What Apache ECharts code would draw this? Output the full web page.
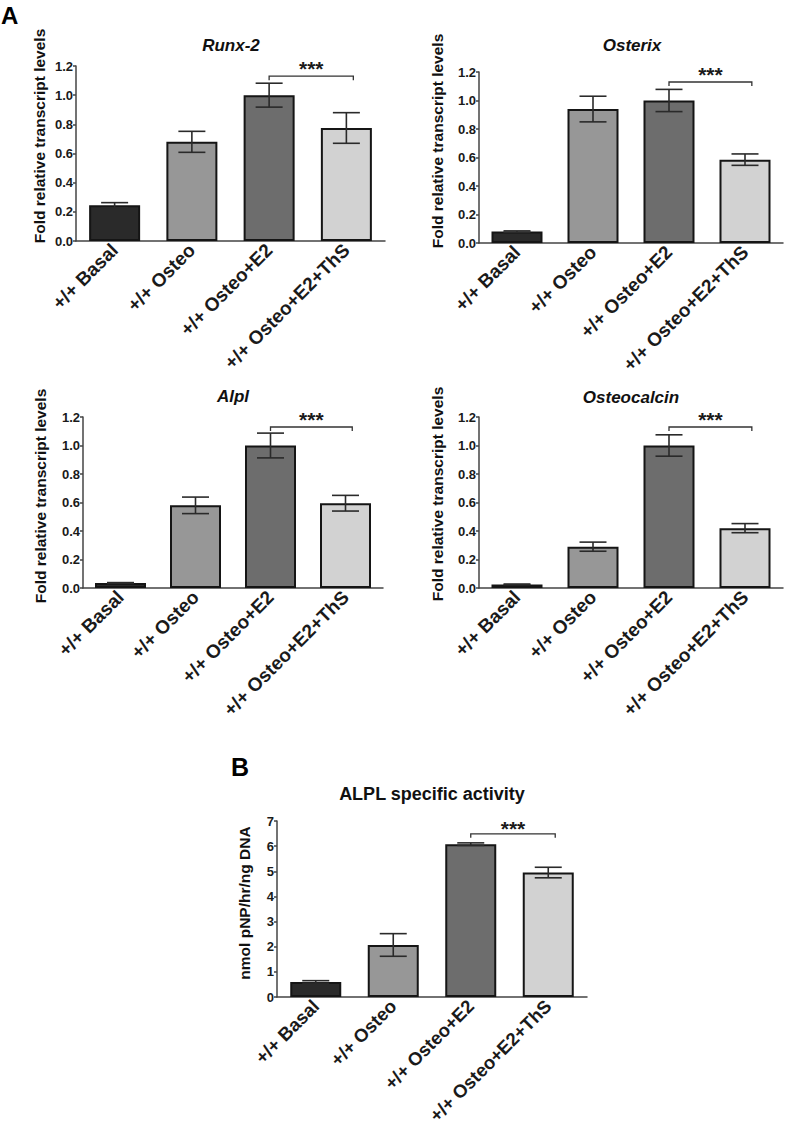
<!DOCTYPE html>
<html>
<head>
<meta charset="utf-8">
<script src="https://cdn.jsdelivr.net/npm/echarts@6/dist/echarts.min.js"></script>
<style>
html,body{margin:0;padding:0;background:#fff;}
#c{width:787px;height:1144px;}
</style>
</head>
<body>
<div id="c"></div>
<script>
// ---------- data ----------
const categories = ['+/+ Basal', '+/+ Osteo', '+/+ Osteo+E2', '+/+ Osteo+E2+ThS'];
const barColors = ['#2a2a2a', '#979797', '#6d6d6d', '#d2d2d2'];

const runx2Mean = [0.245, 0.68, 1.0, 0.775];
const runx2Err  = [0.018, 0.072, 0.082, 0.105];
const osterixMean = [0.08, 0.94, 1.0, 0.585];
const osterixErr  = [0.005, 0.09, 0.078, 0.04];
const alplMean = [0.035, 0.58, 1.0, 0.595];
const alplErr  = [0.003, 0.058, 0.087, 0.055];
const osteocalcinMean = [0.025, 0.29, 1.0, 0.42];
const osteocalcinErr  = [0.003, 0.032, 0.075, 0.032];
const alplActivityMean = [0.6, 2.07, 6.08, 4.95];
const alplActivityErr  = [0.05, 0.45, 0.05, 0.21];

const yTicksA = [0.0, 0.2, 0.4, 0.6, 0.8, 1.0, 1.2];
const yTicksB = [0, 1, 2, 3, 4, 5, 6, 7];

// significance: [from category, to category, bracket level, star level]
const sigRunx2 = [2, 3, 1.13, 1.2];
const sigOsterix = [2, 3, 1.13, 1.2];
const sigAlpl = [2, 3, 1.13, 1.2];
const sigOsteocalcin = [2, 3, 1.13, 1.2];
const sigActivity = [2, 3, 6.49, 6.8];

const titles = ['Runx-2', 'Osterix', 'Alpl', 'Osteocalcin', 'ALPL specific activity'];
const yNameA = 'Fold relative transcript levels';
const yNameB = 'nmol pNP/hr/ng DNA';

// ---------- layout ----------
const FONT = 'Liberation Sans, Arial, Helvetica, sans-serif';
const panels = [
  {mean: runx2Mean, err: runx2Err, sig: sigRunx2, ticks: yTicksA, dec: 1, title: titles[0], italic: true,
   grid: {left: 76, top: 66, width: 309, height: 175}, titleXY: [231, 45], yName: yNameA, nameXY: [39, 136], xFont: 19, tFont: 17},
  {mean: osterixMean, err: osterixErr, sig: sigOsterix, ticks: yTicksA, dec: 1, title: titles[1], italic: true,
   grid: {left: 479, top: 72, width: 304, height: 171}, titleXY: [632, 45], yName: yNameA, nameXY: [437, 141], xFont: 19, tFont: 17},
  {mean: alplMean, err: alplErr, sig: sigAlpl, ticks: yTicksA, dec: 1, title: titles[2], italic: true,
   grid: {left: 83, top: 417, width: 300, height: 171}, titleXY: [233, 396], yName: yNameA, nameXY: [40, 496], xFont: 19, tFont: 17},
  {mean: osteocalcinMean, err: osteocalcinErr, sig: sigOsteocalcin, ticks: yTicksA, dec: 1, title: titles[3], italic: true,
   grid: {left: 479, top: 417, width: 304, height: 171}, titleXY: [631, 397], yName: yNameA, nameXY: [437, 494], xFont: 19, tFont: 17},
  {mean: alplActivityMean, err: alplActivityErr, sig: sigActivity, ticks: yTicksB, dec: 0, title: titles[4], italic: false,
   grid: {left: 277, top: 821, width: 310, height: 176}, titleXY: [432, 794], yName: yNameB, nameXY: [244, 903], xFont: 18.5, tFont: 18}
];

const grids = [], xAxes = [], yAxes = [], series = [], graphics = [];

panels.forEach((p, k) => {
  grids.push(Object.assign({containLabel: false}, p.grid));
  xAxes.push({
    type: 'category', gridIndex: k, data: categories,
    axisLine: {lineStyle: {color: '#444', width: 1.5}},
    axisTick: {alignWithLabel: true, length: 4, lineStyle: {color: '#444', width: 1.5}},
    axisLabel: {interval: 0, rotate: 45, margin: 6, fontSize: p.xFont, fontWeight: 'bold', color: '#1a1a1a', fontFamily: FONT},
    splitLine: {show: false}
  });
  const t = p.ticks;
  yAxes.push({
    type: 'value', gridIndex: k, min: t[0], max: t[t.length - 1], interval: t[1] - t[0],
    axisLine: {show: true, lineStyle: {color: '#444', width: 1.5}},
    axisTick: {show: true, length: 3, lineStyle: {color: '#444', width: 1.5}},
    axisLabel: {margin: 3, fontSize: 13, fontWeight: 'bold', color: '#1a1a1a', fontFamily: FONT,
      formatter: v => v.toFixed(p.dec)},
    splitLine: {show: false}
  });
  series.push({
    type: 'bar', xAxisIndex: k, yAxisIndex: k, barWidth: 51, z: 2,
    data: p.mean.map((v, i) => ({value: v, itemStyle: {color: barColors[i]}})),
    itemStyle: {borderColor: '#151515', borderWidth: 2},
    emphasis: {disabled: true}, animation: false
  });
  series.push({
    type: 'custom', xAxisIndex: k, yAxisIndex: k, z: 5, animation: false,
    encode: {x: 0, y: 1},
    data: p.mean.map((v, i) => [i, v, p.err[i]]),
    renderItem: (params, api) => {
      const i = api.value(0), m = api.value(1), e = api.value(2);
      const hi = api.coord([i, m + e]), lo = api.coord([i, m - e]);
      const hw = 13.5;
      const st = {stroke: '#2a2a2a', lineWidth: 1.6};
      return {type: 'group', children: [
        {type: 'line', shape: {x1: hi[0], y1: hi[1], x2: lo[0], y2: lo[1]}, style: st},
        {type: 'line', shape: {x1: hi[0] - hw, y1: hi[1], x2: hi[0] + hw, y2: hi[1]}, style: st},
        {type: 'line', shape: {x1: lo[0] - hw, y1: lo[1], x2: lo[0] + hw, y2: lo[1]}, style: st}
      ]};
    }
  });
  series.push({
    type: 'custom', xAxisIndex: k, yAxisIndex: k, z: 5, animation: false,
    encode: {x: 0, y: 2},
    data: [p.sig],
    renderItem: (params, api) => {
      const a = api.coord([api.value(0), api.value(2)]);
      const b = api.coord([api.value(1), api.value(2)]);
      const bw = api.size([1, 0])[0];
      const bx = b[0] + 0.09 * bw;
      const s = api.coord([api.value(0), api.value(3)]);
      const st = {stroke: '#333', lineWidth: 1.3, fill: null};
      return {type: 'group', children: [
        {type: 'polyline', shape: {points: [[a[0], a[1] + 4], [a[0], a[1]], [bx, a[1]], [bx, a[1] + 4]]}, style: st},
        {type: 'text', x: (a[0] + bx) / 2, y: s[1] + 2, style: {text: '***', fill: '#1a1a1a',
          font: 'bold 21px ' + FONT, align: 'center', verticalAlign: 'middle'}}
      ]};
    }
  });
  graphics.push({type: 'text', x: p.titleXY[0], y: p.titleXY[1], style: {
    text: p.title, fill: '#111', font: (p.italic ? 'italic ' : '') + 'bold ' + p.tFont + 'px ' + FONT,
    align: 'center', verticalAlign: 'middle'}});
  graphics.push({type: 'text', x: p.nameXY[0], y: p.nameXY[1], rotation: Math.PI / 2, style: {
    text: p.yName, fill: '#111', font: 'bold 15.5px ' + FONT, align: 'center', verticalAlign: 'middle'}});
});

graphics.push({type: 'text', x: 1, y: 15, style: {text: 'A', fill: '#000', font: 'bold 24px ' + FONT, align: 'left', verticalAlign: 'middle'}});
graphics.push({type: 'text', x: 231, y: 767, style: {text: 'B', fill: '#000', font: 'bold 25px ' + FONT, align: 'left', verticalAlign: 'middle'}});

const chart = echarts.init(document.getElementById('c'), null, {renderer: 'svg', width: 787, height: 1144});
chart.setOption({
  backgroundColor: '#ffffff',
  animation: false,
  textStyle: {fontFamily: FONT},
  grid: grids, xAxis: xAxes, yAxis: yAxes, series: series, graphic: graphics
});
</script>
</body>
</html>
